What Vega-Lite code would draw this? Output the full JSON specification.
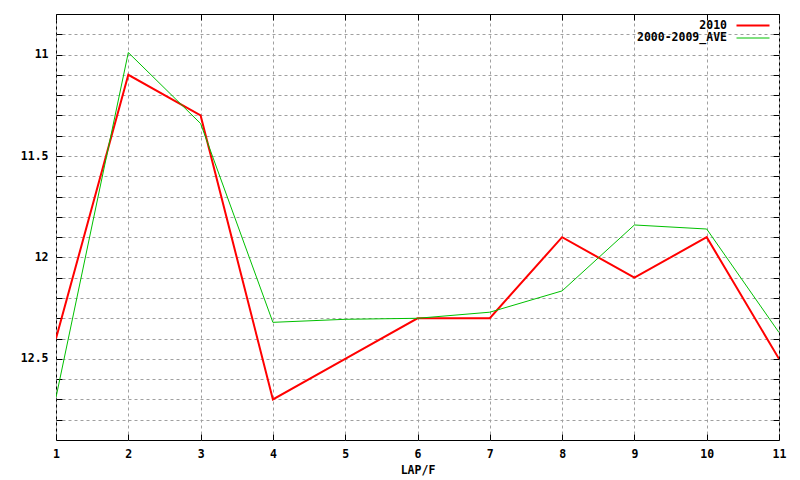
{
  "$schema": "https://vega.github.io/schema/vega-lite/v6.json",
  "width": 723,
  "height": 426,
  "autosize": {"type": "none"},
  "padding": {"left": 56, "top": 14, "right": 21, "bottom": 40},
  "background": "white",
  "config": {
    "view": {"stroke": "black", "strokeWidth": 1},
    "font": "DejaVu Sans Mono",
    "axis": {
      "labelFont": "DejaVu Sans Mono",
      "labelFontWeight": "bold",
      "labelFontSize": 11.5,
      "labelColor": "black",
      "titleFont": "DejaVu Sans Mono",
      "titleFontWeight": "bold",
      "titleFontSize": 11.5,
      "titleColor": "black",
      "domain": false,
      "tickColor": "black",
      "tickSize": -6,
      "gridColor": "#a0a0a0",
      "gridDash": [3, 3],
      "gridOpacity": 1,
      "gridWidth": 1
    },
    "legend": {
      "labelFont": "DejaVu Sans Mono",
      "labelFontWeight": "bold",
      "labelFontSize": 11.5,
      "labelColor": "black"
    }
  },
  "data": {
    "values": [
      {"lap": 1, "time": 12.4, "series": "2010"},
      {"lap": 2, "time": 11.1, "series": "2010"},
      {"lap": 3, "time": 11.3, "series": "2010"},
      {"lap": 4, "time": 12.7, "series": "2010"},
      {"lap": 5, "time": 12.5, "series": "2010"},
      {"lap": 6, "time": 12.3, "series": "2010"},
      {"lap": 7, "time": 12.3, "series": "2010"},
      {"lap": 8, "time": 11.9, "series": "2010"},
      {"lap": 9, "time": 12.1, "series": "2010"},
      {"lap": 10, "time": 11.9, "series": "2010"},
      {"lap": 11, "time": 12.5, "series": "2010"},
      {"lap": 1, "time": 12.69, "series": "2000-2009_AVE"},
      {"lap": 2, "time": 10.99, "series": "2000-2009_AVE"},
      {"lap": 3, "time": 11.34, "series": "2000-2009_AVE"},
      {"lap": 4, "time": 12.32, "series": "2000-2009_AVE"},
      {"lap": 5, "time": 12.305, "series": "2000-2009_AVE"},
      {"lap": 6, "time": 12.3, "series": "2000-2009_AVE"},
      {"lap": 7, "time": 12.27, "series": "2000-2009_AVE"},
      {"lap": 8, "time": 12.165, "series": "2000-2009_AVE"},
      {"lap": 9, "time": 11.84, "series": "2000-2009_AVE"},
      {"lap": 10, "time": 11.86, "series": "2000-2009_AVE"},
      {"lap": 11, "time": 12.37, "series": "2000-2009_AVE"}
    ]
  },
  "layer": [
    {
      "transform": [{"filter": "datum.series === '2010'"}],
      "mark": {"type": "line", "clip": true},
      "encoding": {
        "x": {
          "field": "lap", "type": "quantitative",
          "scale": {"domain": [1, 11], "nice": false, "zero": false},
          "axis": {
            "title": "LAP/F",
            "values": [1, 2, 3, 4, 5, 6, 7, 8, 9, 10, 11],
            "format": "d",
            "labelPadding": 14,
            "titlePadding": 5,
            "grid": true,
            "labelFlush": false
          }
        },
        "y": {
          "field": "time", "type": "quantitative",
          "scale": {"domain": [10.8, 12.9], "reverse": true, "nice": false, "zero": false},
          "axis": {
            "title": null,
            "values": [10.9, 11, 11.1, 11.2, 11.3, 11.4, 11.5, 11.6, 11.7, 11.8, 11.9, 12, 12.1, 12.2, 12.3, 12.4, 12.5, 12.6, 12.7, 12.8],
            "labelExpr": "indexof([11, 11.5, 12, 12.5], datum.value) >= 0 ? format(datum.value, '~g') : ''",
            "labelPadding": 14,
            "grid": true
          }
        },
        "color": {
          "field": "series", "type": "nominal",
          "scale": {"domain": ["2010", "2000-2009_AVE"], "range": ["#ff0000", "#00c000"]},
          "legend": {
            "title": null,
            "orient": "top-right",
            "offset": 5,
            "symbolType": "M-4,0H2",
            "symbolSize": 121,
            "labelAlign": "right",
            "labelOffset": -38,
            "rowPadding": 1
          }
        },
        "strokeWidth": {
          "field": "series", "type": "nominal",
          "scale": {"domain": ["2010", "2000-2009_AVE"], "range": [2, 1]},
          "legend": null
        }
      }
    },
    {
      "transform": [{"filter": "datum.series === '2000-2009_AVE'"}],
      "mark": {"type": "line", "clip": true},
      "encoding": {
        "x": {
          "field": "lap", "type": "quantitative",
          "scale": {"domain": [1, 11], "nice": false, "zero": false},
          "axis": {
            "orient": "top",
            "title": null,
            "values": [1, 2, 3, 4, 5, 6, 7, 8, 9, 10, 11],
            "labels": false,
            "grid": false
          }
        },
        "y": {
          "field": "time", "type": "quantitative",
          "scale": {"domain": [10.8, 12.9], "reverse": true, "nice": false, "zero": false},
          "axis": {
            "orient": "right",
            "title": null,
            "values": [10.9, 11, 11.1, 11.2, 11.3, 11.4, 11.5, 11.6, 11.7, 11.8, 11.9, 12, 12.1, 12.2, 12.3, 12.4, 12.5, 12.6, 12.7, 12.8],
            "labels": false,
            "grid": false
          }
        },
        "color": {
          "field": "series", "type": "nominal",
          "scale": {"domain": ["2010", "2000-2009_AVE"], "range": ["#ff0000", "#00c000"]}
        },
        "strokeWidth": {
          "field": "series", "type": "nominal",
          "scale": {"domain": ["2010", "2000-2009_AVE"], "range": [2, 1]},
          "legend": null
        }
      }
    }
  ],
  "resolve": {"scale": {"x": "independent", "y": "independent"}, "axis": {"x": "independent", "y": "independent"}}
}
